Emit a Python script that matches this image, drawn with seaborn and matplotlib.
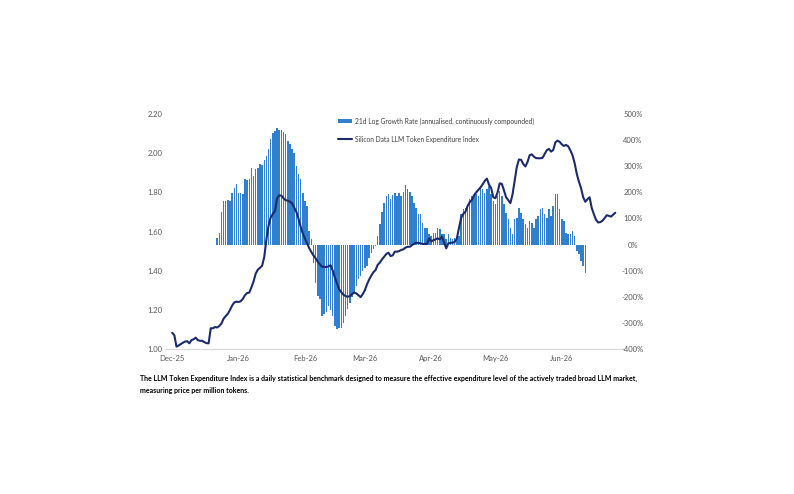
import pandas as pd
import matplotlib
matplotlib.use('agg')
import matplotlib.pyplot as plt
from matplotlib.patches import Patch
from matplotlib.lines import Line2D
import seaborn as sns

START = pd.Timestamp("2025-12-01")
BAR_START_DAY = 21  # first day with a full 21d window

# 21d log growth rate, % (annualised), daily from BAR_START_DAY
GROWTH = [
    27, 46, 124, 167, 165, 172, 168, 199, 215, 231,
    196, 198, 194, 250, 248, 252, 295, 263, 290, 292,
    307, 305, 322, 340, 365, 403, 429, 435, 448, 440,
    437, 432, 423, 397, 385, 365, 352, 301, 270, 250,
    199, 167, 148, 52, 20, -69, -146, -197, -210, -274,
    -267, -260, -235, -250, -274, -312, -325, -318, -318, -299,
    -274, -248, -222, -200, -184, -159, -133, -120, -101, -90,
    -82, -50, -31, -18, -5, 33, 78, 123, 161, 186,
    193, 173, 190, 199, 186, 199, 186, 201, 227, 212,
    200, 186, 161, 141, 116, 116, 84, 65, 65, 40,
    33, 46, 46, 65, 60, 40, 40, 20, 40, 25,
    22, 25, 20, 33, 116, 135, 141, 141, 173, 186,
    186, 193, 186, 218, 212, 199, 212, 225, 193, 167,
    154, 186, 205, 186, 154, 120, 97, 65, 40, 97,
    103, 141, 122, 97, 78, 65, 90, 84, 65, 97,
    110, 135, 141, 116, 103, 135, 110, 148, 193, 193,
    135, 97, 90, 46, 40, 40, 52, 33, -25, -37,
    -63, -82, -107,
]

# Silicon Data LLM Token Expenditure Index, daily from START
INDEX = [
    1.083, 1.070, 1.012, 1.018, 1.025, 1.032, 1.038, 1.040, 1.029, 1.045,
    1.050, 1.058, 1.045, 1.042, 1.042, 1.035, 1.030, 1.029, 1.106, 1.106,
    1.112, 1.110, 1.118, 1.130, 1.155, 1.168, 1.180, 1.200, 1.222, 1.238,
    1.242, 1.240, 1.244, 1.256, 1.275, 1.286, 1.288, 1.315, 1.345, 1.385,
    1.405, 1.415, 1.425, 1.470, 1.560, 1.630, 1.672, 1.690, 1.705, 1.770,
    1.785, 1.783, 1.770, 1.760, 1.758, 1.752, 1.744, 1.722, 1.700, 1.665,
    1.625, 1.590, 1.565, 1.540, 1.515, 1.495, 1.478, 1.463, 1.445, 1.432,
    1.420, 1.420, 1.418, 1.422, 1.428, 1.400, 1.365, 1.335, 1.305, 1.290,
    1.277, 1.270, 1.267, 1.270, 1.280, 1.288, 1.284, 1.275, 1.265, 1.280,
    1.300, 1.330, 1.355, 1.375, 1.392, 1.403, 1.430, 1.441, 1.458, 1.471,
    1.485, 1.492, 1.475, 1.478, 1.497, 1.497, 1.500, 1.506, 1.509, 1.518,
    1.522, 1.522, 1.530, 1.538, 1.543, 1.541, 1.540, 1.536, 1.537, 1.536,
    1.565, 1.550, 1.555, 1.560, 1.565, 1.560, 1.574, 1.545, 1.514, 1.540,
    1.542, 1.543, 1.547, 1.565, 1.620, 1.670, 1.690, 1.701, 1.730, 1.750,
    1.761, 1.785, 1.800, 1.812, 1.825, 1.840, 1.858, 1.870, 1.840, 1.822,
    1.775, 1.770, 1.800, 1.846, 1.843, 1.810, 1.775, 1.760, 1.745, 1.790,
    1.860, 1.930, 1.968, 1.966, 1.945, 1.932, 1.955, 1.990, 1.994, 1.982,
    1.975, 1.974, 1.974, 1.976, 1.995, 2.015, 2.022, 2.008, 2.016, 2.055,
    2.064, 2.058, 2.045, 2.037, 2.042, 2.035, 2.015, 1.990, 1.950, 1.895,
    1.855, 1.822, 1.775, 1.752, 1.765, 1.775, 1.720, 1.688, 1.660, 1.646,
    1.648, 1.655, 1.668, 1.683, 1.680, 1.676, 1.686, 1.696,
]

LEFT_TICKS = [1.00, 1.20, 1.40, 1.60, 1.80, 2.00, 2.20]
RIGHT_TICKS = [-400, -300, -200, -100, 0, 100, 200, 300, 400, 500]

BAR_LABEL = "21d Log Growth Rate (annualised, continuously compounded)"
LINE_LABEL = "Silicon Data LLM Token Expenditure Index"
CAPTION_1 = ("The LLM Token Expenditure Index is a daily statistical benchmark designed to measure "
             "the effective expenditure level of the actively traded broad LLM market,")
CAPTION_2 = "measuring price per million tokens."

BLUE = "#2F80CE"
NAVY = "#1C2B6B"
GREY = "#595959"

bars = pd.DataFrame({"day": [BAR_START_DAY + i for i in range(len(GROWTH))], "growth": GROWTH})
line = pd.DataFrame({"day": list(range(len(INDEX))), "index": INDEX})

months = pd.date_range(START, "2026-06-01", freq="MS")
month_pos = [(m - START).days for m in months]
month_lab = [m.strftime("%b-%y") for m in months]

sns.set_theme(style="white")
plt.rcParams["font.family"] = ["Lato", "DejaVu Sans"]

fig, ax = plt.subplots(figsize=(7.94, 4.94), dpi=100)
fig.subplots_adjust(left=0.208, right=0.783, bottom=0.2935, top=0.7692)
ax2 = ax.twinx()

sns.barplot(data=bars, x="day", y="growth", native_scale=True, orient="x", color=BLUE,
            saturation=1, width=0.7, errorbar=None, edgecolor="none", linewidth=0,
            antialiased=False, ax=ax2)
sns.lineplot(data=line, x="day", y="index", color=NAVY, linewidth=1.5, ax=ax)

# line sits above the bars
ax.set_zorder(2)
ax2.set_zorder(1)
ax.patch.set_visible(False)

ax.set_xlim(-3.3, 210)
ax.set_ylim(1.0, 2.2)
ax2.set_ylim(-400, 500)

ax.set_yticks(LEFT_TICKS)
ax.set_yticklabels([f"{v:.2f}" for v in LEFT_TICKS])
ax2.set_yticks(RIGHT_TICKS)
ax2.set_yticklabels([f"{v}%" for v in RIGHT_TICKS])
ax.set_xticks(month_pos)
ax.set_xticklabels(month_lab)
ax2.set_xticks(month_pos)

ax.tick_params(axis="y", length=0, pad=2, labelsize=5.5, labelcolor=GREY)
ax.tick_params(axis="x", length=0, pad=4, labelsize=5.5, labelcolor=GREY)
ax2.tick_params(axis="y", length=0, pad=8, labelsize=5.5, labelcolor=GREY)
for t in ax2.get_yticklabels():
    t.set_horizontalalignment("center")

for a in (ax, ax2):
    a.set_xlabel("")
    a.set_ylabel("")
    for s in ("top", "left", "right"):
        a.spines[s].set_visible(False)
    a.spines["bottom"].set_color("#D9D9D9")
    a.spines["bottom"].set_linewidth(0.8)
    a.grid(False)

handles = [Patch(facecolor=BLUE, edgecolor="none"), Line2D([], [], color=NAVY, linewidth=1.5)]
fig.legend(handles, [BAR_LABEL, LINE_LABEL], loc="upper left", bbox_to_anchor=(338 / 794, 1 - 117.5 / 494),
           frameon=False, fontsize=4.75, handlelength=2.1, handleheight=0.6, handletextpad=0.45,
           labelspacing=1.65, borderpad=0, borderaxespad=0, labelcolor="#404040")

fig.text(140 / 794, 1 - 378 / 494, CAPTION_1, fontsize=5.05, fontweight="bold", color="black", va="center")
fig.text(140 / 794, 1 - 390 / 494, CAPTION_2, fontsize=5.05, fontweight="bold", color="black", va="center")

fig.savefig("out.png", dpi=100)
